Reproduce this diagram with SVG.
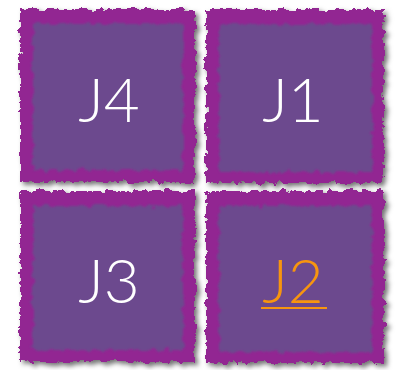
<svg xmlns="http://www.w3.org/2000/svg" width="402" height="370" viewBox="0 0 402 370">
<defs>
<filter id="rough" x="-10%" y="-10%" width="125%" height="125%">
<feTurbulence type="fractalNoise" baseFrequency="0.14" numOctaves="3" seed="4" result="n"/>
<feDisplacementMap in="SourceGraphic" in2="n" scale="9" xChannelSelector="R" yChannelSelector="G" result="d"/>
<feGaussianBlur in="d" stdDeviation="2.5" result="b"/>
<feOffset in="b" dx="3" dy="3" result="o"/>
<feFlood flood-color="#000" flood-opacity="0.55"/>
<feComposite in2="o" operator="in" result="s"/>
<feMerge><feMergeNode in="s"/><feMergeNode in="d"/></feMerge>
</filter>
<filter id="roughIn" x="-10%" y="-10%" width="120%" height="120%">
<feTurbulence type="fractalNoise" baseFrequency="0.14" numOctaves="2" seed="9" result="n"/>
<feDisplacementMap in="SourceGraphic" in2="n" scale="8" xChannelSelector="R" yChannelSelector="G" result="d"/>
<feGaussianBlur in="d" stdDeviation="0.8"/>
</filter>
</defs>
<style>
.outer{fill:#922892}
.inner{fill:#6c4a8e}
.lbl{font-family:Lato,"Liberation Sans",sans-serif;font-weight:300;font-size:62px;fill:#ffffff;text-anchor:middle}
.sel{fill:#f7950f}
</style>
<rect width="402" height="370" fill="#ffffff"/>
<g id="J4">
<rect class="outer" x="20" y="9" width="175" height="173" filter="url(#rough)"/>
<rect class="inner" x="33" y="24" width="150" height="146" filter="url(#roughIn)"/>
<text class="lbl" x="109" y="122">J4</text>
</g>
<g id="J1">
<rect class="outer" x="206" y="9" width="178" height="174" filter="url(#rough)"/>
<rect class="inner" x="219" y="24" width="153" height="148" filter="url(#roughIn)"/>
<text class="lbl" x="293" y="122">J1</text>
</g>
<g id="J3">
<rect class="outer" x="20" y="191" width="175" height="171" filter="url(#rough)"/>
<rect class="inner" x="33" y="206" width="150" height="144" filter="url(#roughIn)"/>
<text class="lbl" x="109" y="303">J3</text>
</g>
<g id="J2">
<rect class="outer" x="206" y="191" width="178" height="172" filter="url(#rough)"/>
<rect class="inner" x="219" y="206" width="153" height="146" filter="url(#roughIn)"/>
<text class="lbl sel" x="293" y="303">J2</text>
<line x1="261" y1="308" x2="327" y2="308" stroke="#f7950f" stroke-width="2"/>
</g>
<g id="connectors"/>
</svg>
